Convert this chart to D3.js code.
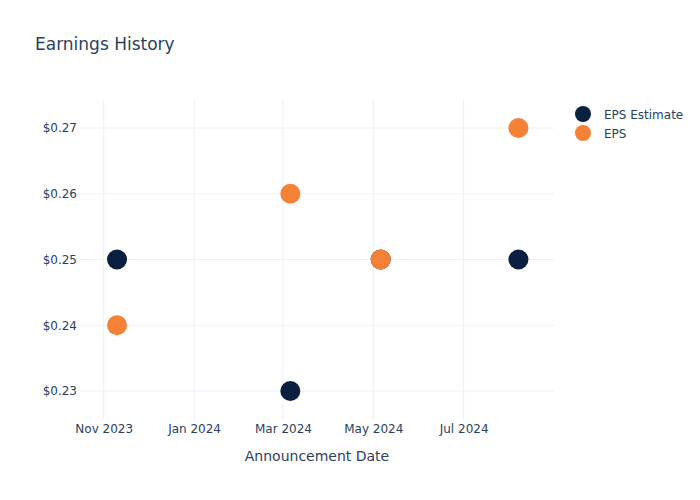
<!DOCTYPE html>
<html><head><meta charset="utf-8">
<script src="https://cdn.jsdelivr.net/npm/d3@7"></script>
<style>body{margin:0;background:#fff}text{font-family:"DejaVu Sans",Verdana,sans-serif;fill:#2a3f5f}</style>
</head><body><svg id="c" width="700" height="500"></svg>
<script>
const dates = ["2023-11-10","2024-03-06","2024-05-06","2024-08-07"];
const epsEstimate = [0.25, 0.23, 0.25, 0.25];
const eps = [0.24, 0.26, 0.25, 0.27];
const yTicks = [0.23, 0.24, 0.25, 0.26, 0.27];
const xTickDates = ["2023-11-01","2024-01-01","2024-03-01","2024-05-01","2024-07-01"];
const seriesNames = ["EPS Estimate", "EPS"];
const colors = ["#0b1f41", "#f58137"];

const parse = d3.timeParse("%Y-%m-%d");
const svg = d3.select("#c");
const L=80, R=554, T=100, B=420;
const x = d3.scaleTime().domain([parse("2023-10-16"), parse("2024-08-31")]).range([L,R]);
const y = d3.scaleLinear().domain([0.22559, 0.27426]).range([B,T]);

// grid
svg.append("g").selectAll("line").data(xTickDates).join("line")
  .attr("x1",d=>x(parse(d))).attr("x2",d=>x(parse(d))).attr("y1",T).attr("y2",B)
  .attr("stroke","#ebf0f8").attr("stroke-width",1);
svg.append("g").selectAll("line").data(yTicks).join("line")
  .attr("x1",L).attr("x2",R).attr("y1",d=>y(d)).attr("y2",d=>y(d))
  .attr("stroke","#ebf0f8").attr("stroke-width",1);

// axes
const xAxis = d3.axisBottom(x).tickValues(xTickDates.map(parse)).tickFormat(d3.timeFormat("%b %Y")).tickSize(0).tickPadding(4);
const gx = svg.append("g").attr("transform",`translate(0,${B})`).call(xAxis);
gx.select(".domain").remove();
gx.selectAll("text").attr("font-size",12).style("fill","#2a3f5f");
const yAxis = d3.axisLeft(y).tickValues(yTicks).tickFormat(d=>"$"+d3.format(".2f")(d)).tickSize(0).tickPadding(3);
const gy = svg.append("g").attr("transform",`translate(${L},0)`).call(yAxis);
gy.select(".domain").remove();
gy.selectAll("text").attr("font-size",12).style("fill","#2a3f5f");

// points
[epsEstimate, eps].forEach((vals,i)=>{
  svg.append("g").selectAll("circle").data(vals).join("circle")
    .attr("cx",(d,j)=>x(parse(dates[j]))).attr("cy",d=>y(d)).attr("r",10)
    .attr("fill",colors[i]);
});

// title
svg.append("text").attr("x",35).attr("y",50).attr("font-size",17).text("Earnings History");
svg.append("text").attr("x",(L+R)/2).attr("y",461).attr("text-anchor","middle").attr("font-size",14).text("Announcement Date");

// legend
const lg = svg.append("g");
seriesNames.forEach((n,i)=>{
  lg.append("circle").attr("cx",583).attr("cy",114+19*i).attr("r",8).attr("fill",colors[i]);
  lg.append("text").attr("x",604).attr("y",119+19*i).attr("font-size",12).text(n);
});
</script></body></html>
